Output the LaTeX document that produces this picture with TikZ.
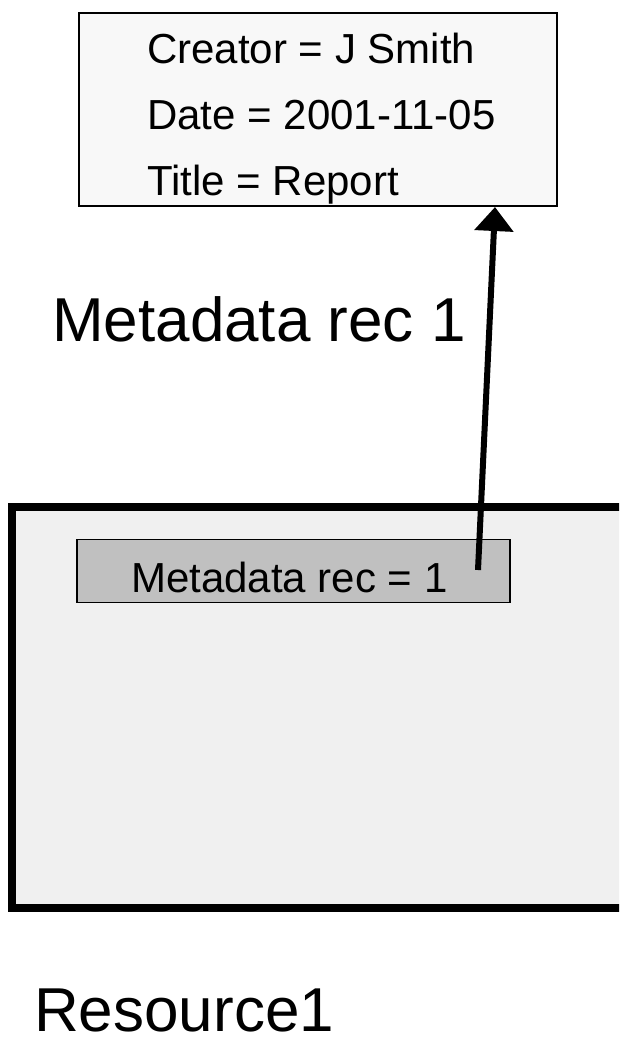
\documentclass[tikz,border=0pt]{standalone}
\usepackage{fontspec}
\setmainfont{Liberation Sans}
\usetikzlibrary{arrows.meta,positioning}
\definecolor{recfill}{HTML}{F8F8F8}
\definecolor{resfill}{HTML}{F0F0F0}
\definecolor{fieldfill}{HTML}{C0C0C0}
\tikzset{
	recbox/.style={draw, line width=2pt, fill=recfill, inner sep=0pt},
	fieldbox/.style={draw, line width=1.5pt, fill=fieldfill, inner sep=0pt},
	small/.style={font=\fontsize{42}{50}\selectfont, inner sep=0pt, anchor=base west},
	big/.style={font=\fontsize{62}{74}\selectfont, inner sep=0pt, anchor=base west}
}
\begin{document}
\begin{tikzpicture}[x=1pt,y=-1pt]
				\useasboundingbox (0,0) rectangle (619,1045);
				\clip (0,0) rectangle (619,1045);
				% resource
				\draw[line width=8pt, fill=resfill] (12,507) rectangle (700,908);
				\node[fieldbox, minimum width=433pt, minimum height=63pt] (field) at (293.5,571) {};
				\node[small] (fieldtxt) at (131,592) {Metadata rec = 1};
				\coordinate (ptr) at (478,570);
				% metadata record
				\node[recbox, minimum width=478pt, minimum height=193pt] (rec) at (318,109.5) {};
				\node[small] (creator) at (147,63) {Creator = J Smith};
				\node[small] (date) at (147,129) {Date = 2001-11-05};
				\node[small] (title) at (147,195) {Title = Report};
				\draw[-{Triangle[width=38pt,length=24pt]}, line width=6pt] (ptr)--(rec.south -| 495,0);
				\node[big] (reclbl) at (52,341) {Metadata rec 1};
				\node[big] (reslbl) at (34,1031) {Resource1};
			\end{tikzpicture}
\end{document}
